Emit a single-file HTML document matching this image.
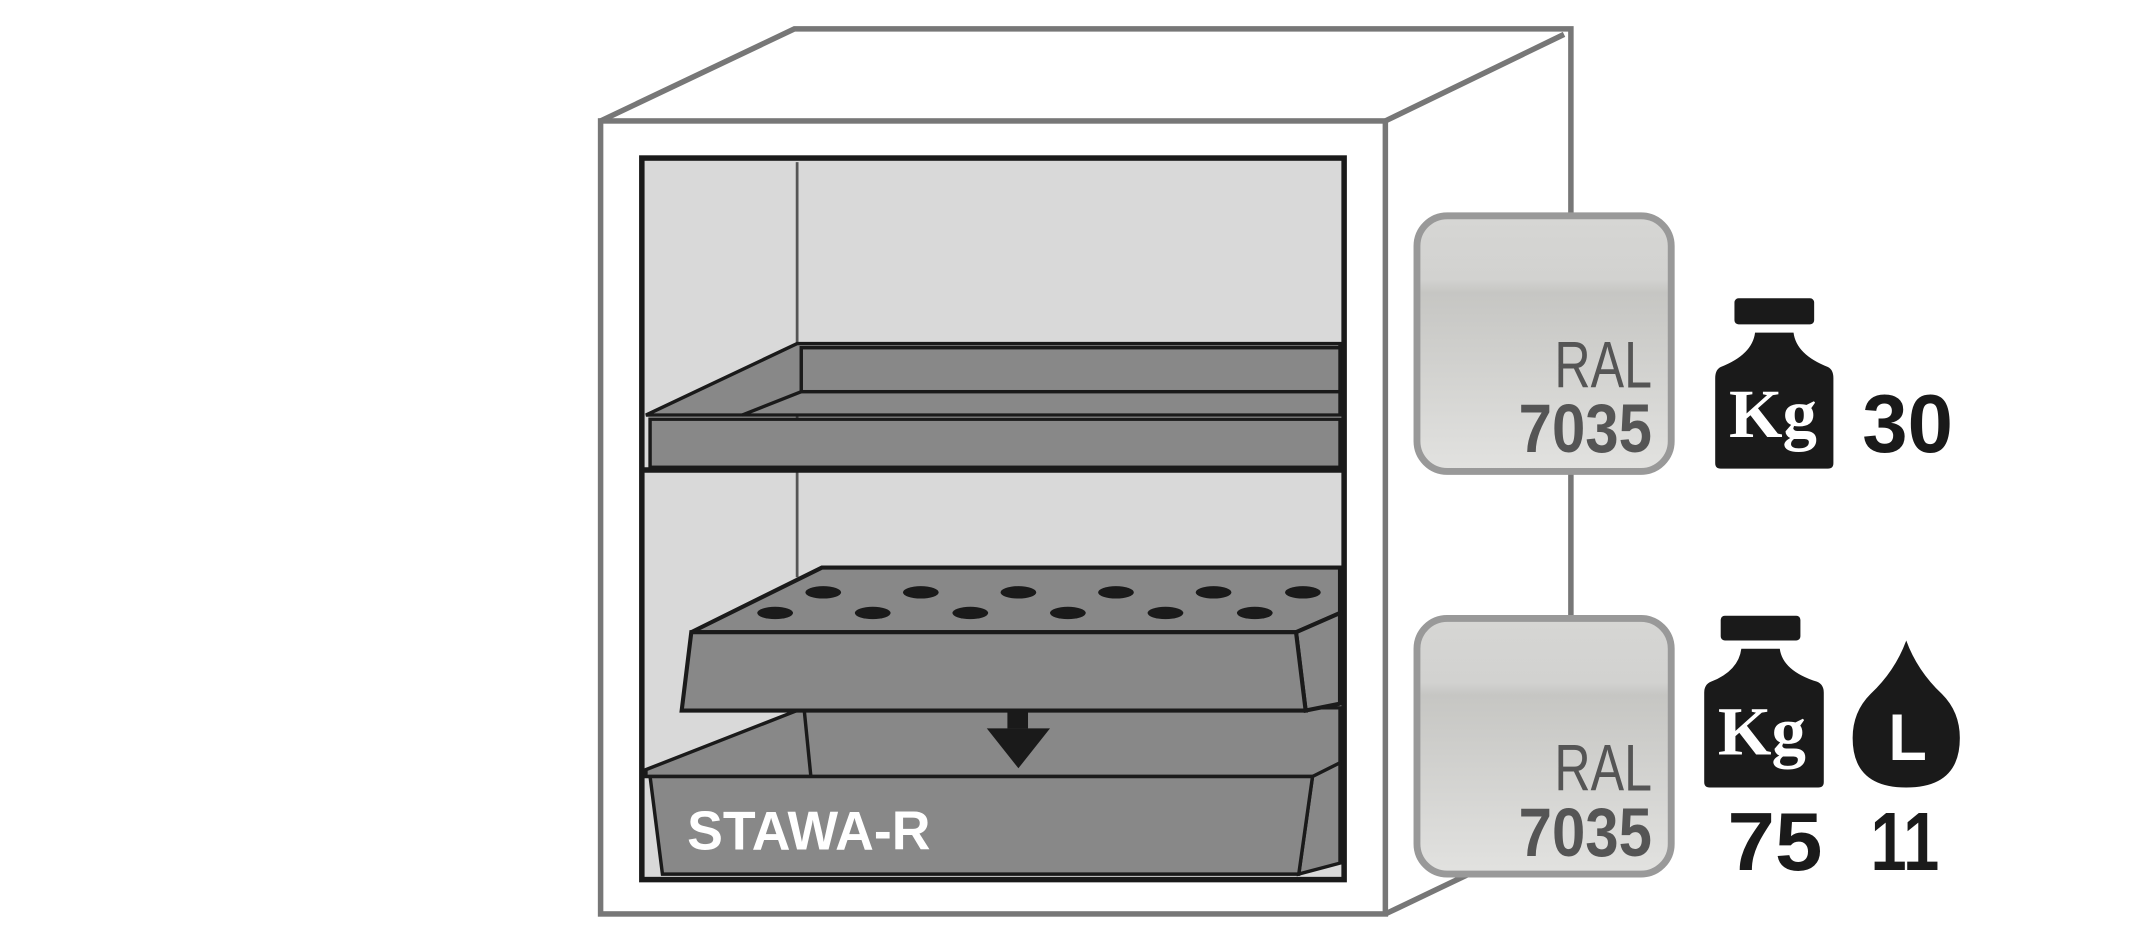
<!DOCTYPE html>
<html><head><meta charset="utf-8"><style>
html,body{margin:0;padding:0;background:#fff;width:2155px;height:949px;overflow:hidden}
svg{display:block}
.c{font-family:"Liberation Sans",sans-serif;font-weight:bold}
</style></head><body>
<svg width="2155" height="949" viewBox="0 0 1568 690.5" xmlns="http://www.w3.org/2000/svg">
<defs>
<linearGradient id="g" x1="0" y1="0" x2="0" y2="1">
<stop offset="0" stop-color="#d6d6d4"/><stop offset="0.25" stop-color="#d2d2d0"/><stop offset="0.3" stop-color="#c6c6c3"/><stop offset="1" stop-color="#e2e2e0"/>
</linearGradient>
</defs>
<g fill="none" stroke="#777" stroke-width="4">
<polyline points="437,88 578,21 1143,21 1143,460"/>
<line x1="1008" y1="88" x2="1138" y2="25"/>
<line x1="1008" y1="665" x2="1075" y2="633"/>
<rect x="437" y="88" width="571" height="577"/>
</g>
<rect x="467" y="115" width="511" height="525" fill="#d9d9d9" stroke="#1a1a1a" stroke-width="4"/>
<line x1="580" y1="118" x2="580" y2="420" stroke="#555" stroke-width="2"/>
<g stroke="#1a1a1a" stroke-width="2.5" fill="#888">
<polygon points="470,302 580,250 975,250 975,302"/>
<rect x="583" y="253" width="392" height="32"/>
<line x1="540" y1="302" x2="583" y2="285"/>
<rect x="473" y="305" width="502" height="35"/>
</g>
<line x1="467" y1="342" x2="978" y2="342" stroke="#1a1a1a" stroke-width="4"/>
<g stroke="#1a1a1a" stroke-width="2.5" fill="#888">
<polygon points="470,560 585,515 975,515 975,565 470,565"/>
<line x1="585" y1="515" x2="590" y2="565"/>
<polygon points="955,565 975,555 975,628 945,636"/>
<polygon points="473,565 955,565 945,636 482,636"/>
</g>
<text x="500" y="618" class="c" font-size="40" fill="#fff" textLength="177" lengthAdjust="spacingAndGlyphs">STAWA-R</text>
<g stroke="#1a1a1a" stroke-width="3" fill="#888">
<polygon points="503,460 598,413 975,413 975,446 943,460"/>
<polygon points="943,460 975,446 975,512 950,517"/>
<polygon points="503,460 943,460 950,517 496,517"/>
</g>
<g fill="#1a1a1a">
<ellipse cx="599" cy="431" rx="13" ry="4.5"/><ellipse cx="670" cy="431" rx="13" ry="4.5"/><ellipse cx="741" cy="431" rx="13" ry="4.5"/><ellipse cx="812" cy="431" rx="13" ry="4.5"/><ellipse cx="883" cy="431" rx="13" ry="4.5"/><ellipse cx="948" cy="431" rx="13" ry="4.5"/>
<ellipse cx="564" cy="446" rx="13" ry="4.5"/><ellipse cx="635" cy="446" rx="13" ry="4.5"/><ellipse cx="706" cy="446" rx="13" ry="4.5"/><ellipse cx="777" cy="446" rx="13" ry="4.5"/><ellipse cx="848" cy="446" rx="13" ry="4.5"/><ellipse cx="913" cy="446" rx="13" ry="4.5"/>
<rect x="733" y="518" width="15" height="12"/>
<polygon points="718,530 764,530 741,559"/>
</g>
<g stroke="#999" stroke-width="5" fill="url(#g)">
<rect x="1031" y="157" width="185" height="186" rx="22"/>
<rect x="1031" y="450" width="185" height="186" rx="22"/>
</g>
<g fill="#555">
<text x="1131" y="282" font-family="Liberation Sans,sans-serif" font-size="48" textLength="71" lengthAdjust="spacingAndGlyphs">RAL</text>
<text x="1105" y="329" class="c" font-size="50" textLength="97" lengthAdjust="spacingAndGlyphs">7035</text>
<text x="1131" y="575" font-family="Liberation Sans,sans-serif" font-size="48" textLength="71" lengthAdjust="spacingAndGlyphs">RAL</text>
<text x="1105" y="623" class="c" font-size="50" textLength="97" lengthAdjust="spacingAndGlyphs">7035</text>
</g>
<g fill="#1a1a1a">
<rect x="1262" y="217" width="58" height="19" rx="3"/>
<path d="M1277,242 H1305 Q1307,258 1330,267 Q1334,269 1334,275 V337 Q1334,341 1330,341 H1252 Q1248,341 1248,337 V275 Q1248,269 1252,267 Q1275,258 1277,242 Z"/>
<rect x="1252" y="448" width="58" height="18" rx="3"/>
<path d="M1267,472 H1295 Q1297,488 1322,496 Q1327,498 1327,504 V569 Q1327,573 1323,573 H1244 Q1240,573 1240,569 V504 Q1240,498 1245,496 Q1265,488 1267,472 Z"/>
<path d="M1387,466 Q1395,488 1413,505 Q1426,518 1426,537 Q1426,573 1387,573 Q1348,573 1348,537 Q1348,518 1361,505 Q1379,488 1387,466 Z"/>
</g>
<g fill="#fff" font-weight="bold">
<text x="1258" y="318" font-size="50" font-family="Liberation Serif,serif" textLength="64" lengthAdjust="spacingAndGlyphs">Kg</text>
<text x="1250" y="549" font-size="50" font-family="Liberation Serif,serif" textLength="64" lengthAdjust="spacingAndGlyphs">Kg</text>
<text x="1374" y="553" font-size="48" font-family="Liberation Sans,sans-serif" textLength="28" lengthAdjust="spacingAndGlyphs">L</text>
</g>
<g fill="#1a1a1a" class="c" font-size="60">
<text x="1355" y="329" textLength="66" lengthAdjust="spacingAndGlyphs">30</text>
<text x="1257" y="633" textLength="69" lengthAdjust="spacingAndGlyphs">75</text>
<text x="1361" y="633" textLength="50" lengthAdjust="spacingAndGlyphs">11</text>
</g>
</svg>
</body></html>
